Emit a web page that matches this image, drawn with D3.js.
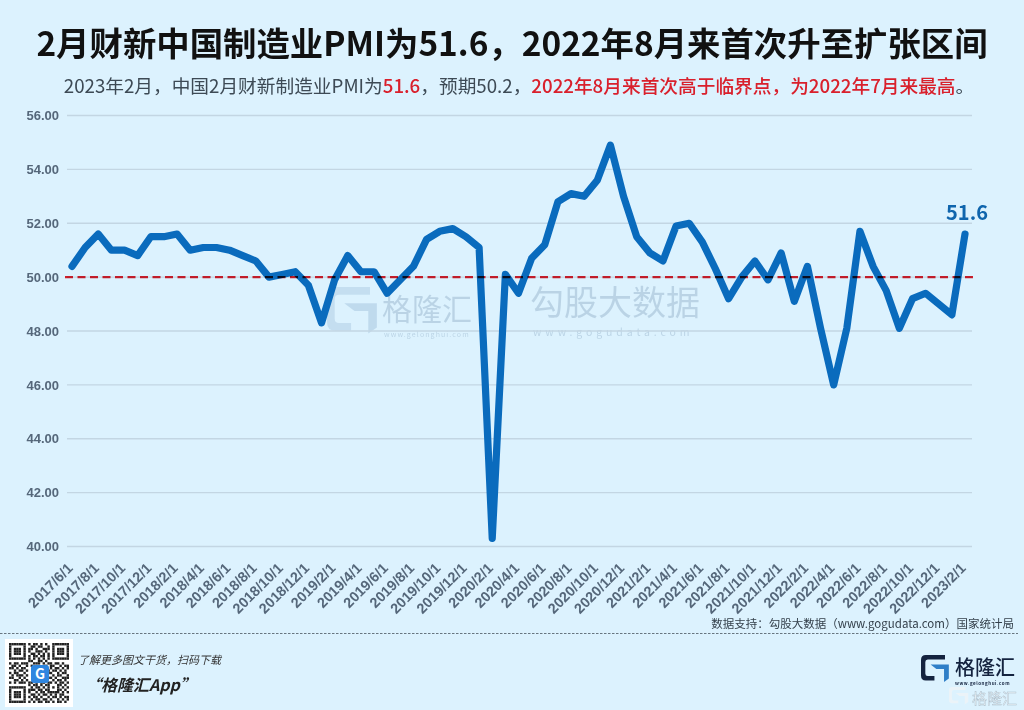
<!DOCTYPE html>
<html>
<head>
<meta charset="utf-8">
<script src="https://cdn.jsdelivr.net/npm/d3@7/dist/d3.min.js"></script>
<style>
  html, body { margin: 0; padding: 0; background: #dcf2fe; }
  svg { display: block; }
  text { font-family: "Noto Sans CJK SC", sans-serif; }
  .axis text { font-family: "Liberation Sans", sans-serif; font-weight: bold; font-size: 13px; fill: #55677a; }
  .axis .domain, .axis .tick line { stroke: none; }
</style>
</head>
<body>
<div id="chart"></div>
<script>
const WIDTH = 1024;
const HEIGHT = 710;

const years = [2017, 2018, 2019, 2020, 2021, 2022, 2023];
const monthsByYear = [
  [6, 7, 8, 9, 10, 11, 12],
  [1, 2, 3, 4, 5, 6, 7, 8, 9, 10, 11, 12],
  [1, 2, 3, 4, 5, 6, 7, 8, 9, 10, 11, 12],
  [1, 2, 3, 4, 5, 6, 7, 8, 9, 10, 11, 12],
  [1, 2, 3, 4, 5, 6, 7, 8, 9, 10, 11, 12],
  [1, 2, 3, 4, 5, 6, 7, 8, 9, 10, 11, 12],
  [1, 2]
];
const dates = years.flatMap((y, i) => monthsByYear[i].map(m => y + "/" + m + "/1"));
const pmi = [
  50.4, 51.1, 51.6, 51.0, 51.0, 50.8, 51.5,
  51.5, 51.6, 51.0, 51.1, 51.1, 51.0, 50.8, 50.6, 50.0, 50.1, 50.2, 49.7,
  48.3, 49.9, 50.8, 50.2, 50.2, 49.4, 49.9, 50.4, 51.4, 51.7, 51.8, 51.5,
  51.1, 40.3, 50.1, 49.4, 50.7, 51.2, 52.8, 53.1, 53.0, 53.6, 54.9, 53.0,
  51.5, 50.9, 50.6, 51.9, 52.0, 51.3, 50.3, 49.2, 50.0, 50.6, 49.9, 50.9,
  49.1, 50.4, 48.1, 46.0, 48.1, 51.7, 50.4, 49.5, 48.1, 49.2, 49.4, 49.0,
  48.6, 51.6
];
const yTicks = [40, 42, 44, 46, 48, 50, 52, 54, 56];
const threshold = 50;

const svg = d3.select("#chart").append("svg")
  .attr("width", WIDTH)
  .attr("height", HEIGHT);

// background
svg.append("rect").attr("width", WIDTH).attr("height", HEIGHT).attr("fill", "#dcf2fe");

// title
svg.append("text")
  .attr("x", 512).attr("y", 56)
  .attr("text-anchor", "middle")
  .attr("font-size", 33.4).attr("font-weight", 700).attr("fill", "#111")
  .text("2月财新中国制造业PMI为51.6，2022年8月来首次升至扩张区间");

const sub = svg.append("text")
  .attr("x", 519).attr("y", 93)
  .attr("text-anchor", "middle")
  .attr("font-size", 18.7).attr("fill", "#3d4a55");
sub.append("tspan").text("2023年2月，中国2月财新制造业PMI为");
sub.append("tspan").attr("fill", "#d9202c").attr("font-weight", 500).text("51.6");
sub.append("tspan").text("，预期50.2，");
sub.append("tspan").attr("fill", "#d9202c").attr("font-weight", 500).text("2022年8月来首次高于临界点，为2022年7月来最高");
sub.append("tspan").text("。");

// scales
const x = d3.scalePoint().domain(dates).range([72, 965]);
const y = d3.scaleLinear().domain([40, 56]).range([546.5, 115.5]);

// watermarks, under the line
function logoG(g, dark, accent) {
  g.append("path").attr("fill", dark)
    .attr("d", "M10 0H50V9H14Q9 9 9 14V37Q9 42 14 42H28V51H10Q0 51 0 41V10Q0 0 10 0Z");
  g.append("path").attr("fill", accent)
    .attr("d", "M20 19H58V47L48 54V28H32Z");
}
const wm = svg.append("g").attr("opacity", 0.3);
const wmLogo = wm.append("g").attr("transform", "translate(327,287)scale(0.86)");
logoG(wmLogo, "#8fb2d2", "#7fa5c9");
wm.append("text").attr("x", 382).attr("y", 320).attr("font-size", 30).attr("fill", "#6f8fae").text("格隆汇");
wm.append("text").attr("x", 384).attr("y", 337).attr("font-size", 7).attr("letter-spacing", 1.1)
  .attr("fill", "#6f8fae").text("www.gelonghui.com");
wm.append("text").attr("x", 530).attr("y", 315).attr("font-size", 34).attr("fill", "#6f8fae").text("勾股大数据");
wm.append("text").attr("x", 533).attr("y", 336).attr("font-size", 10.5).attr("letter-spacing", 3.9)
  .attr("fill", "#6f8fae").text("www.gogudata.com");

// grid
svg.append("g").selectAll("line").data(yTicks).join("line")
  .attr("x1", 67).attr("x2", 972)
  .attr("y1", d => y(d)).attr("y2", d => y(d))
  .attr("stroke", "#c3d6e3").attr("stroke-width", 1.3);

// axes
const yAxis = svg.append("g").attr("class", "axis")
  .attr("transform", "translate(63,0)")
  .call(d3.axisLeft(y).tickValues(yTicks).tickSize(0).tickPadding(4).tickFormat(d3.format(".2f")));

const xAxis = svg.append("g").attr("class", "axis")
  .attr("transform", "translate(0,561)")
  .call(d3.axisBottom(x).tickValues(dates.filter((d, i) => i % 2 === 0)).tickSize(0).tickPadding(0));
xAxis.selectAll("text")
  .attr("text-anchor", "end")
  .attr("dy", "6.6px")
  .attr("dx", "-4.9px")
  .attr("transform", "rotate(-45)")
  .style("font-size", "14.4px");

// series
const line = d3.line()
  .x((d, i) => x(dates[i]))
  .y(d => y(d));
svg.append("path").datum(pmi)
  .attr("fill", "none")
  .attr("stroke", "#0a6bbd")
  .attr("stroke-width", 7.2)
  .attr("stroke-linejoin", "round")
  .attr("stroke-linecap", "round")
  .attr("d", line);

// threshold line sits over the series
svg.append("line")
  .attr("x1", 65).attr("x2", 976)
  .attr("y1", y(threshold)).attr("y2", y(threshold))
  .attr("stroke", "#f0202c").attr("stroke-width", 2.2)
  .attr("stroke-dasharray", "8 4.5")
  .style("mix-blend-mode", "multiply");

// last value label
svg.append("text")
  .attr("x", x(dates[dates.length - 1]) + 2).attr("y", y(pmi[pmi.length - 1]) - 14)
  .attr("text-anchor", "middle")
  .attr("font-size", 20).attr("font-weight", 700).attr("fill", "#0f65ad")
  .text(pmi[pmi.length - 1]);

// source + footer
svg.append("text")
  .attr("x", 1014).attr("y", 627.5)
  .attr("text-anchor", "end")
  .attr("font-size", 11.5).attr("fill", "#333f4a")
  .text("数据支持：勾股大数据（www.gogudata.com）国家统计局");

svg.append("line")
  .attr("x1", 0).attr("x2", 1018).attr("y1", 633.5).attr("y2", 633.5)
  .attr("stroke", "#4a5560").attr("stroke-width", 0.8).attr("stroke-dasharray", "2.5 1.5");

svg.append("text")
  .attr("x", 78).attr("y", 664)
  .attr("font-size", 11).attr("font-style", "italic").attr("fill", "#333")
  .text("了解更多图文干货，扫码下载");
svg.append("text")
  .attr("x", 85).attr("y", 691)
  .attr("font-size", 16).attr("font-style", "italic").attr("font-weight", 700).attr("fill", "#222")
  .text("“格隆汇App”");

// QR code block, decorative
const qrRows = [
  "1111111010110101001111111", "1000001001101100101000001", "1011101011010011101011101",
  "1011101010011101001011101", "1011101001101010101011101", "1000001010110110101000001",
  "1111111010101010101111111", "0000000011001101000000000", "1011011100111010110110100",
  "0110100101000001011001011", "1101011000000000010110101", "0010110100000000101101010",
  "1011001000000000110010110", "0101110100000000001011001", "1100101000000000110100111",
  "0011010100000000001011010", "1010111011010110110101101", "0000000010110101100011010",
  "1111111001011010101010101", "1000001011101101100011010", "1011101010010110111110101",
  "1011101001101011010101100", "1011101010110100101101011", "1000001001011011010010101",
  "1111111010101101101011010"
];
const qr = svg.append("g").attr("transform", "translate(5,639)");
qr.append("rect").attr("width", 68).attr("height", 68).attr("fill", "#fff");
const cell = d3.scaleBand().domain(d3.range(25)).range([4, 64]);
qrRows.forEach((row, r) => {
  qr.selectAll(null).data(row.split("").map((c, i) => ({ c: c, i: i })).filter(d => d.c === "1"))
    .join("rect")
    .attr("x", d => cell(d.i)).attr("y", cell(r))
    .attr("width", cell.bandwidth()).attr("height", cell.bandwidth())
    .attr("fill", "#222");
});
qr.append("rect").attr("x", 26).attr("y", 26).attr("width", 18).attr("height", 18).attr("rx", 3).attr("fill", "#2f86e0");
qr.append("text").attr("x", 35).attr("y", 40).attr("text-anchor", "middle")
  .attr("font-size", 14).attr("font-weight", 700).attr("fill", "#fff").text("G");

// logo bottom right
const logo = svg.append("g").attr("transform", "translate(921,655)scale(0.48,0.5)");
logoG(logo, "#14233f", "#2f7fc8");
svg.append("text").attr("x", 955).attr("y", 675).attr("font-size", 20).attr("font-weight", 500).attr("fill", "#14233f").text("格隆汇");
svg.append("text").attr("x", 955).attr("y", 684.5).attr("font-size", 4.5).attr("font-weight", 700).attr("letter-spacing", 0.55).attr("fill", "#14233f").text("www.gelonghui.com");
const wmSmall = svg.append("g").attr("opacity", 0.85);
const wmSmallLogo = wmSmall.append("g").attr("transform", "translate(949,687)scale(0.33,0.32)");
logoG(wmSmallLogo, "#eef4f8", "#eef4f8");
wmSmall.append("text").attr("x", 972).attr("y", 704).attr("font-size", 15).attr("fill", "#eef4f8").attr("stroke", "#9fb0bd").attr("stroke-width", 0.4).text("格隆汇");
</script>
</body>
</html>
